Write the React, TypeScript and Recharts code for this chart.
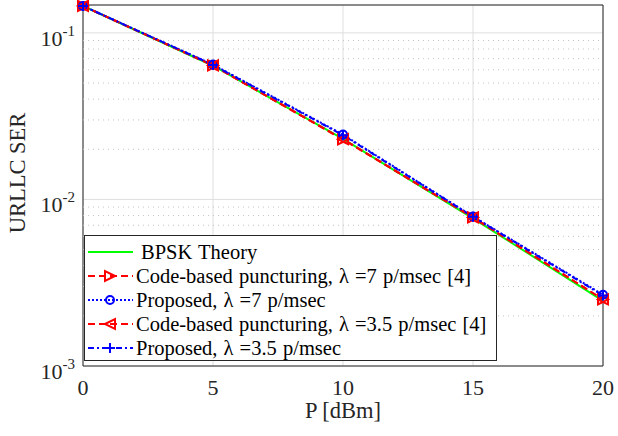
import { LineChart, Line, XAxis, YAxis, CartesianGrid, ReferenceLine, ReferenceArea, Label } from 'recharts'

const powerDbm = [0, 5, 10, 15, 20]
const bpskTheory = [0.145, 0.0635, 0.0231, 0.00770, 0.00246]
const codeLambda7 = [0.145, 0.0637, 0.0229, 0.00780, 0.00251]
const proposedLambda7 = [0.145, 0.0645, 0.0245, 0.00790, 0.00268]
const codeLambda35 = [0.145, 0.0637, 0.0230, 0.00780, 0.00251]
const proposedLambda35 = [0.145, 0.0642, 0.0243, 0.00788, 0.00265]

const xTicks = [0, 5, 10, 15, 20]
const yTicks = [0.001, 0.01, 0.1]
const minorTicks = [0.002, 0.003, 0.004, 0.005, 0.006, 0.007, 0.008, 0.009, 0.02, 0.03, 0.04, 0.05, 0.06, 0.07, 0.08, 0.09]

const FONT = '"Liberation Serif", "Times New Roman", serif'
const AX = '#262626'

const data = powerDbm.map((p, i) => ({
  p,
  bpsk: bpskTheory[i],
  code7: codeLambda7[i],
  prop7: proposedLambda7[i],
  code35: codeLambda35[i],
  prop35: proposedLambda35[i],
}))

type Marker = 'none' | 'right' | 'left' | 'circle' | 'plus'

function markerShape(kind: Marker, cx: number, cy: number, color: string, key?: string) {
  const s = 5
  if (kind === 'right')
    return <path key={key} d={`M${cx + s},${cy} L${cx - s},${cy - s} L${cx - s},${cy + s} Z`} fill="none" stroke={color} strokeWidth={2} />
  if (kind === 'left')
    return <path key={key} d={`M${cx - s},${cy} L${cx + s},${cy - s} L${cx + s},${cy + s} Z`} fill="none" stroke={color} strokeWidth={2} />
  if (kind === 'circle') return <circle key={key} cx={cx} cy={cy} r={4} fill="none" stroke={color} strokeWidth={2} />
  if (kind === 'plus')
    return <path key={key} d={`M${cx - s},${cy} L${cx + s},${cy} M${cx},${cy - s} L${cx},${cy + s}`} stroke={color} strokeWidth={2} />
  return <g key={key} />
}

const series = [
  { key: 'bpsk', name: 'BPSK Theory', color: '#00ff00', dash: undefined, marker: 'none' as Marker },
  { key: 'code7', name: 'Code-based puncturing, λ =7 p/msec [4]', color: '#ff0000', dash: '7 4', marker: 'right' as Marker },
  { key: 'prop7', name: 'Proposed, λ =7 p/msec', color: '#0000ff', dash: '2 2', marker: 'circle' as Marker },
  { key: 'code35', name: 'Code-based puncturing, λ =3.5 p/msec [4]', color: '#ff0000', dash: '7 4', marker: 'left' as Marker },
  { key: 'prop35', name: 'Proposed, λ =3.5 p/msec', color: '#0000ff', dash: '6 3 2 3', marker: 'plus' as Marker },
]

function LogTick(props: any) {
  const { x, y, payload } = props
  const exp = Math.round(Math.log10(payload.value))
  return (
    <text x={x} y={y + 13} textAnchor="end" fontFamily={FONT} fontSize={22} fill={AX}>
      10<tspan dy={-10} fontSize={15}>{exp}</tspan>
    </text>
  )
}

function LegendBox() {
  return (
    <div
      style={{
        position: 'absolute', left: 84, top: 235, width: 411, height: 124,
        border: `1px solid ${AX}`, background: '#fff', fontFamily: FONT, fontSize: 20.5, color: '#000',
      }}
    >
      {series.map((s, i) => (
        <div key={s.key} style={{ position: 'absolute', left: 0, top: 4 + i * 24, height: 24, display: 'flex', alignItems: 'center', whiteSpace: 'nowrap', wordSpacing: 1 }}>
          <svg width={50} height={24} style={{ flex: 'none' }}>
            <line x1={3} x2={48} y1={12} y2={12} stroke={s.color} strokeWidth={2} strokeDasharray={s.dash} />
            {markerShape(s.marker, 25, 12, s.color)}
          </svg>
          <span style={{ marginLeft: i === 0 ? 6 : 1 }}>{s.name}</span>
        </div>
      ))}
    </div>
  )
}

export default function App() {
  return (
    <div style={{ position: 'absolute', left: 0, top: 0, width: 618, height: 436, background: '#fff' }}>
      <LineChart width={618} height={436} data={data} margin={{ top: 5, right: 15, left: 0, bottom: 0 }}>
        <CartesianGrid stroke="#dedede" strokeWidth={1} />
        {minorTicks.map((v) => (
          <ReferenceLine key={v} y={v} stroke="#c4c4c4" strokeDasharray="1 4" />
        ))}
        <XAxis
          dataKey="p" type="number" domain={[0, 20]} ticks={xTicks} height={70}
          axisLine={false} tickLine={false} tickSize={0} tickMargin={13}
          tick={{ fontSize: 22, fill: AX, fontFamily: FONT }}
        >
          <Label
            content={(p: any) => (
              <text x={p.viewBox.x + p.viewBox.width / 2} y={418} textAnchor="middle" fontFamily={FONT} fontSize={22.5} fill={AX}>
                P [dBm]
              </text>
            )}
          />
        </XAxis>
        <YAxis
          type="number" scale="log" domain={[0.001, 0.147]} ticks={yTicks} width={83}
          axisLine={false} tickLine={false} tickSize={0} tickMargin={8} tick={<LogTick />}
        >
          <Label
            content={() => (
              <text x={0} y={0} transform="translate(25,173) rotate(-90)" textAnchor="middle" fontFamily={FONT} fontSize={22.5} fill={AX}>
                URLLC SER
              </text>
            )}
          />
        </YAxis>
        <ReferenceArea x1={0} x2={20} y1={0.001} y2={0.147} fill="none" stroke={AX} strokeWidth={1} />
        {series.map((s) => (
          <Line
            key={s.key} dataKey={s.key} name={s.name} stroke={s.color} strokeWidth={2}
            strokeDasharray={s.dash} isAnimationActive={false}
            dot={s.marker === 'none' ? false : (d: any) => markerShape(s.marker, d.cx, d.cy, s.color, `${s.key}-${d.index}`)}
            activeDot={false}
          />
        ))}
      </LineChart>
      <LegendBox />
    </div>
  )
}
